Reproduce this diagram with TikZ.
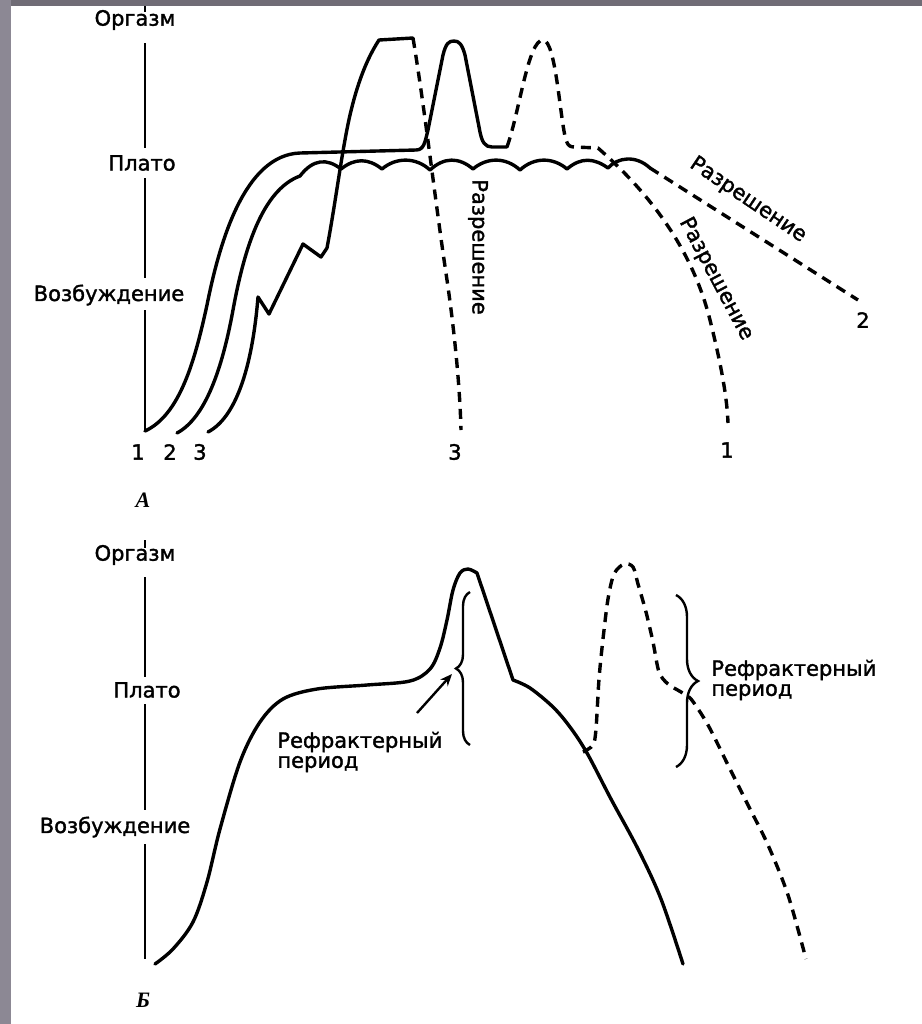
\documentclass[tikz,border=0pt]{standalone}
\usepackage{fontspec}
\newfontfamily\dv{DejaVu Sans}[BoldFont={DejaVu Sans}, BoldFeatures={FakeBold=1.6}]
\newfontfamily\lserif{Liberation Serif}
\usetikzlibrary{decorations.pathreplacing,arrows.meta}
\definecolor{topgray}{RGB}{112,108,118}
\definecolor{leftgray}{RGB}{140,136,148}
\tikzset{
  crv/.style={line width=1.7pt, line cap=round, line join=round},
  dsh/.style={line width=1.7pt, line join=round, dash pattern=on 5pt off 3.5pt},
  axisline/.style={line width=1.4pt},
  lbl/.style={font=\dv\bfseries\fontsize{10.5}{10}\selectfont, inner sep=0pt},
  panellbl/.style={font=\lserif\bfseries\itshape\fontsize{11}{11}\selectfont, inner sep=0pt},
  bracestyle/.style={line width=1.2pt, decorate},
}
\begin{document}
\begin{tikzpicture}[x=0.5pt,y=-0.5pt]
\useasboundingbox (0,0) rectangle (922,1024);
\fill[white] (0,0) rectangle (922,1024);
\fill[topgray] (0,0) rectangle (922,6);
\fill[leftgray] (0,0) rectangle (11,1024);

% ---------------- Panel A ----------------
\draw[axisline] (145,6) -- (145,12);
\draw[axisline] (145,43) -- (145,148);
\draw[axisline] (145,178) -- (145,278);
\draw[axisline] (145,310) -- (145,430);

\node[lbl] (orgA) at (135,20) {Оргазм};
\node[lbl] (platA) at (142,163) {Плато};
\node[lbl] (vozA) at (109,295) {Возбуждение};
\node[lbl] (n1) at (138,452) {1};
\node[lbl] (n2) at (170,452) {2};
\node[lbl] (n3) at (200,452) {3};
\node[lbl] (e3) at (455,452) {3};
\node[lbl] (e1) at (727,450) {1};
\node[lbl] (e2) at (863,320) {2};
\node[panellbl] (pA) at (143,500) {А};
\node[lbl, rotate=-90] (r3) at (478,247) {Разрешение};
\node[lbl, rotate=-62] (r1) at (716,279) {Разрешение};
\node[lbl, rotate=-34] (r2) at (748,200) {Разрешение};

% curve 1
\draw[crv] (145,431) .. controls (180,415) and (195,360) .. (207,305)
  .. controls (220,240) and (245,155) .. (300,153) -- (416,150)
  .. controls (424,150) and (425,142) .. (428,130) -- (443,55)
  .. controls (446,43) and (449,41) .. (454,41) .. controls (459,41) and (462,44) .. (465,55)
  -- (480,132) .. controls (482,142) and (485,147) .. (492,147) -- (507,147);
\draw[dsh] (507,147) .. controls (520,110) and (528,40) .. (543,40)
  .. controls (556,40) and (560,120) .. (566,140)
  .. controls (568,146) and (570,147) .. (575,147) -- (598,148)
  .. controls (640,185) and (690,240) .. (710,320)
  .. controls (720,360) and (727,395) .. (728,423);

% curve 2
\draw[crv] (177,433) .. controls (205,418) and (222,370) .. (233,310)
  .. controls (244,250) and (262,190) .. (300,176)
  .. controls (313,159) and (327,158) .. (341,169)
  .. controls (355,158) and (368,158) .. (382,169)
  .. controls (396,157) and (416,157) .. (430,170)
  .. controls (444,157) and (459,157) .. (473,169)
  .. controls (487,157) and (506,157) .. (520,170)
  .. controls (534,157) and (553,157) .. (567,169)
  .. controls (581,157) and (594,158) .. (608,168)
  .. controls (618,157) and (636,155) .. (650,168);
\draw[dsh] (650,168) -- (858,300);

% curve 3
\draw[crv] (208,432) .. controls (235,418) and (252,370) .. (258,297)
  -- (269,314) -- (303,244) -- (321,257) -- (327,248)
  .. controls (336,200) and (342,150) .. (350,115)
  .. controls (357,85) and (366,60) .. (379,40) -- (413,38);
\draw[dsh] (413,38) .. controls (425,110) and (435,200) .. (447,280)
  .. controls (455,335) and (460,390) .. (461,430);

% ---------------- Panel B ----------------
\draw[axisline] (145,540) -- (145,548);
\draw[axisline] (145,577) -- (145,677);
\draw[axisline] (145,704) -- (145,810);
\draw[axisline] (145,844) -- (145,959);

\node[lbl] (orgB) at (135,555) {Оргазм};
\node[lbl] (platB) at (147,690) {Плато};
\node[lbl] (vozB) at (115,827) {Возбуждение};
\node[panellbl] (pB) at (143,1000) {Б};

\draw[crv] plot[smooth, tension=0.55] coordinates {(155,964) (173,949) (193,922) (207,882) (220,829) (240,762) (260,722) (283,699) (317,689) (367,685) (410,681) (430,669) (440,648) (447,620) (453,590) (460,573) (468,569) (477,573)} -- (513,680);
\draw[crv] plot[smooth, tension=0.55] coordinates {(513,680) (530,688) (553,707) (570,727) (587,753) (611,799) (638,849) (661,899) (683,964)};

\draw[dsh] plot[smooth, tension=0.5] coordinates {(583,752) (593,745) (596,729) (599,679) (603,639) (608,599) (614,574) (624,564) (633,567) (638,584) (646,612) (653,642) (659,672) (668,684) (681,692) (691,699) (708,725) (728,765) (748,805) (768,845) (788,895) (806,959)};

% braces
\coordinate (b1bot) at (470,745);
\coordinate (b1top) at (470,592);
\draw[bracestyle, decoration={brace, amplitude=7pt}] (b1bot) -- (b1top);
\coordinate (b2top) at (676,595);
\coordinate (b2bot) at (676,767);
\draw[bracestyle, decoration={brace, amplitude=11pt}] (b2top) -- (b2bot);

% arrow
\coordinate (arS) at (417,713);
\coordinate (arE) at (452,674);
\draw[line width=1.2pt, -{Stealth[length=6pt,width=5pt]}] (arS) -- (arE);

\node[lbl, align=left, anchor=west] (refr1) at (277,752) {Рефрактерный\\период};
\node[lbl, align=left, anchor=west] (refr2) at (711,680) {Рефрактерный\\период};
\end{tikzpicture}
\end{document}
